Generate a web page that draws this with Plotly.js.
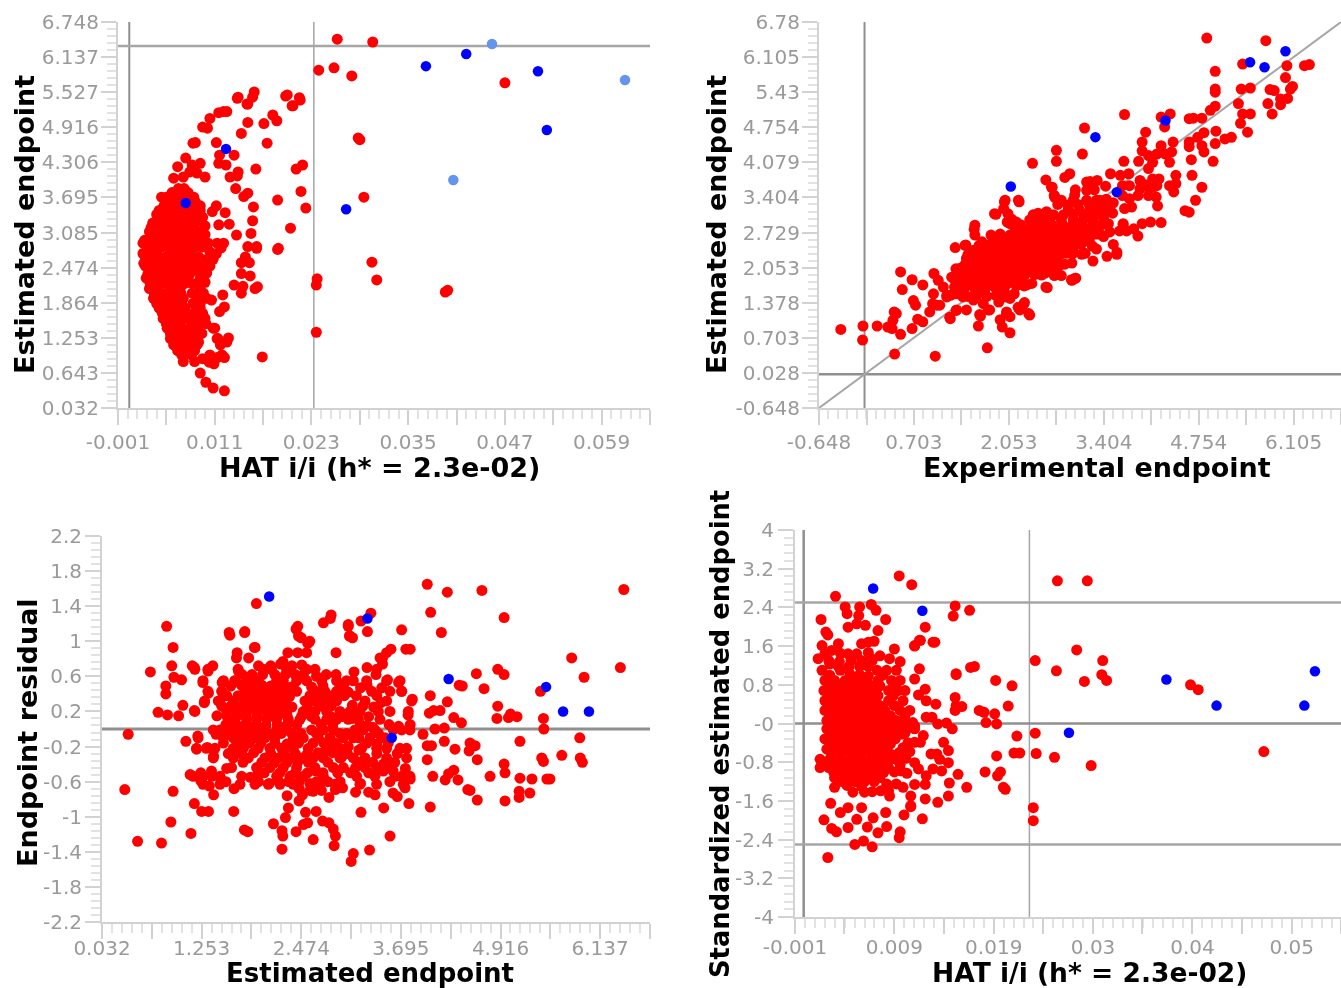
<!DOCTYPE html>
<html><head><meta charset="utf-8">
<script src="https://cdn.plot.ly/plotly-3.0.1.min.js"></script>
<style>html,body{margin:0;padding:0;background:#fff}#g{width:1341px;height:988px;filter:blur(.45px)}</style>
</head><body><div id="g"></div>
<script>
// ---------- panel 1: HAT vs estimated ----------
const hatEstRedA=[[.0262,6.45],[.0306,6.4],[.0239,5.91],[.0258,5.95],[.028,5.81],[.047,5.69],[.0288,4.73],[.029,4.7],[.0295,3.7],[.0305,2.57],[.0311,2.26],[.0399,2.08],[.0396,2.05],[.0237,2.28],[.0236,2.17],[.0236,1.35],[.0169,.92],
[.0121,5.19],[.0115,5.17],[.0125,5.19],[.0104,5.07],[.0101,4.9],[.0095,4.92],[.0086,4.65],[.0083,4.64],[.0074,4.38],[.0064,4.23],[.0092,4.29],[.0079,4.14],[.0059,4.03],[.0098,4.05],[.0071,4.05],[.0088,4.12],[.0082,4.26],
[.0151,5.32],[.0138,5.42],[.0112,4.65],[.0143,4.81],[.0151,5],[.0171,4.98],[.0182,5.13],[.0187,5.03],[.0206,5.29],[.0216,5.39],[.0175,4.64],[.0134,4.43],[.0116,4.43],[.0115,4.29],[.0124,4.26],[.0139,4.14],[.0129,4.05],[.0138,4.07],[.0161,4.19],[.0211,4.19],[.0219,4.26],[.0136,3.85],[.0151,3.77],[.0146,3.71],[.0158,3.53],[.0157,3.29],[.0112,3.55],[.0107,3.45],[.0123,3.43],[.0115,3.22],[.0128,3.23],[.0137,3.04],[.0155,3.07],[.0102,2.9],[.0188,3.65],[.0217,3.8],[.0223,3.51],[.0204,3.16],[.0189,2.81],[.0162,2.84],
[.0139,5.44],[.0159,5.53],[.0157,5.44],[.015,5.32],[.0198,5.46],[.02,5.48],[.0215,5.43],[.0207,5.29],
[.0065,3.85],[.0072,3.85],[.0044,3.7],[.005,3.7],[.0055,3.7],[.0062,3.7],[.007,3.7],[.0078,3.7],[.0084,3.7],
[.0047,3.55],[.0053,3.55],[.0059,3.55],[.0065,3.55],[.0072,3.55],[.008,3.55],[.0088,3.55],[.0092,3.55],
[.0038,3.4],[.0043,3.4],[.0049,3.4],[.0055,3.4],[.0061,3.4],[.0068,3.4],[.0076,3.4],[.0083,3.4],[.0088,3.4],
[.0033,3.25],[.0039,3.25],[.0045,3.25],[.005,3.25],[.0057,3.25],[.0063,3.25],[.0069,3.25],[.0075,3.25],[.0081,3.25],[.0086,3.25],
[.0029,3.1],[.0034,3.1],[.0043,3.1],[.005,3.1],[.0055,3.1],[.0061,3.1],[.0067,3.1],[.0073,3.1],[.0079,3.1],[.0085,3.1],
[.0023,2.95],[.0028,2.95],[.0034,2.95],[.004,2.95],[.0047,2.95],[.0053,2.95],[.0059,2.95],[.0065,2.95],[.0071,2.95],[.0077,2.95],[.0083,2.95],
[.0021,2.9],[.0034,2.9],[.0046,2.9],[.0059,2.9],[.0071,2.9],[.0084,2.9],[.0096,2.9],[.0113,2.9],[.0121,2.9],
[.0026,2.75],[.0038,2.75],[.0055,2.75],[.0067,2.75],[.0079,2.75],[.0104,2.75],
[.0021,2.72],[.0026,2.61],[.0042,2.61],[.0055,2.61],[.0067,2.61],[.0082,2.61],[.0096,2.61],
[.0022,2.55],[.003,2.43],[.0046,2.43],[.0059,2.43],[.0088,2.43],[.0098,2.43],
[.0025,2.29],[.0034,2.29],[.005,2.29],[.0063,2.29],[.0075,2.29],[.0092,2.29],
[.0029,2.11],[.0038,2.11],[.0055,2.11],[.0067,2.11],[.0092,2.11],
[.0034,1.94],[.0046,1.94],[.0059,1.94],[.0071,1.94],[.009,1.94],[.01,1.94],
[.0041,1.77],[.005,1.77],[.0063,1.77],[.0073,1.77],[.0092,1.77],
[.0046,1.59],[.0055,1.59],[.0065,1.59],[.0075,1.59],[.0088,1.59],[.0098,1.59],
[.0051,1.42],[.0059,1.42],[.0069,1.42],[.0079,1.42],[.0088,1.42],[.0108,1.42],
[.0055,1.24],[.0063,1.24],[.0073,1.24],[.0084,1.24],[.0113,1.24],
[.0059,1.13],[.0065,1.13],[.0077,1.13],[.0088,1.13],[.0117,1.13],[.0125,1.18],
[.0069,.955],[.0081,.955],[.0104,.955],[.0119,.955],
[.0162,2.81],[.0151,2.84],[.0188,2.79],[.0143,2.56],[.0153,2.56],[.0148,2.66],[.0143,2.37],[.0154,2.33],[.0134,2.17],[.0145,2.15],[.0143,2.03],[.016,2.11],[.0163,2.14],[.012,2],[.0106,1.91],[.0122,1.79],[.0116,1.71],[.011,1.42],[.0114,1.24],[.0127,1.25],[.0071,.84],[.0085,.84],[.0095,.89],[.0103,.83],[.0109,.8],[.0113,.91],[.0122,.91],[.0092,.64],[.0099,.48],[.0108,.38],[.0122,.33]];
const hatEstRedB=[[.0027,2.83],[.0036,2.83],[.0044,2.83],[.0052,2.83],[.0061,2.83],[.0069,2.83],[.0077,2.83],[.0086,2.83],[.0094,2.83],
[.0024,2.66],[.0032,2.66],[.004,2.66],[.0049,2.66],[.0058,2.66],[.0066,2.66],[.0074,2.66],[.0082,2.66],[.009,2.66],
[.0024,2.5],[.0033,2.5],[.0041,2.5],[.005,2.5],[.0058,2.5],[.0067,2.5],[.0075,2.5],[.0083,2.5],[.0092,2.5],
[.0027,2.36],[.0035,2.36],[.0043,2.36],[.0053,2.36],[.0062,2.36],[.007,2.36],[.0079,2.36],[.0093,2.36],
[.003,2.2],[.0039,2.2],[.0047,2.2],[.0056,2.2],[.0065,2.2],[.0073,2.2],[.0082,2.2],[.0089,2.2],
[.0035,2.03],[.0043,2.03],[.0052,2.03],[.0061,2.03],[.0068,2.03],[.0082,2.03],[.0088,2.03],[.0096,2.03],
[.0038,1.85],[.0047,1.85],[.0055,1.85],[.0064,1.85],[.0069,1.85],[.0083,1.85],[.0092,1.85],
[.0045,1.68],[.0052,1.68],[.006,1.68],[.0068,1.68],[.0072,1.68],[.0084,1.68],[.0095,1.68],
[.005,1.5],[.0058,1.5],[.0067,1.5],[.0083,1.5],[.0092,1.5],[.0099,1.5],
[.0055,1.33],[.0062,1.33],[.0072,1.33],[.008,1.33],[.0085,1.33],[.0094,1.33],
[.006,1.18],[.007,1.18],[.0082,1.18],[.009,1.18],[.0064,1.03],[.0075,1.03],[.0085,1.03],
[.0052,3.62],[.0068,3.62],[.0076,3.62],[.0086,3.62],[.0057,3.78],[.0066,3.78],[.0077,3.78],[.0041,3.47],[.0052,3.47],[.0078,3.47],[.0092,3.47],[.0031,3.17],[.0064,3.17],[.0082,3.17],
[.0108,2.62],[.0104,2.5],[.01,2.38],[.0112,2.72],[.0118,2.82],[.0098,2.22],[.0095,3.35],[.0098,3.2],[.0092,3.1],[.0098,3.05],[.009,2.95]];
const hatEstBlue=[[.0372,5.98],[.0422,6.19],[.0511,5.89],[.0522,4.87],[.0273,3.49],[.0124,4.54],[.0074,3.6]];
const hatEstPale=[[.0454,6.365],[.0406,4],[.0619,5.74]];
const hatEstXTicks=[-.001,.005,.011,.017,.023,.029,.035,.041,.047,.053,.059,.065];
const hatEstXText=['-0.001','','0.011','','0.023','','0.035','','0.047','','0.059',''];
const estTicks=[.032,.643,1.253,1.864,2.474,3.085,3.695,4.306,4.916,5.527,6.137,6.748];
const estText=['0.032','0.643','1.253','1.864','2.474','3.085','3.695','4.306','4.916','5.527','6.137','6.748'];
const estTextAlt=['0.032','','1.253','','2.474','','3.695','','4.916','','6.137',''];

// ---------- panel 2: experimental vs estimated ----------
const expEstRedA=[[-.338,.865],[-.022,.93],[-.028,.66],[.179,.93],[.331,.91],[.392,.88],[.422,1.2],[.452,1.17],[.404,1.04],[.513,.77],[.677,.88],[.756,1.06],[.829,1.01],[.428,.39],[1.006,.35],[1.747,.51],[1.62,.93],[1.96,.91],[2.069,.8],[.513,1.97],[.677,1.82],[.829,1.72],[.537,1.63],[.695,1.42],[.726,1.33],[.981,1.55],[.987,1.94],[1.048,1.81],[1.121,1.68],[1.17,1.52],[.969,1.36],[1.03,1.33],[.927,1.2],[1.212,1.1],[1.303,1.23],[1.638,1.15],[2.337,1.17],[2.276,1.38],[2.185,1.29],[2.021,1.2],[2.58,1.68],[2.945,1.82],[3.005,1.85],
[1.76,1.24],[2.07,1.11],[1.93,1.05],[1.22,1.07],[1.65,1.12],[2.02,1.17],[2.35,1.14],
[1.31,1.24],[1.45,1.24],[1.78,1.24],[2.21,1.24],[2.26,1.34],[1.07,1.33],[1.17,1.49],[1.28,1.55],[1.4,1.49],[1.55,1.43],[1.69,1.36],[1.91,1.39],[2.07,1.46],
[1.28,1.68],[1.43,1.68],[1.57,1.65],[1.71,1.62],[1.85,1.68],[1.99,1.59],[2.31,1.72],[2.6,1.67],[2.95,1.81],[3,1.85],
[1.26,1.85],[1.38,1.81],[1.52,1.81],[1.66,1.81],[1.81,1.81],[1.95,1.81],[2.09,1.81],[2.23,1.81],[2.52,1.91],[2.73,1.98],
[1.36,2.04],[1.5,2.01],[1.64,2.01],[1.78,2.01],[1.93,2.01],[2.07,2.01],[2.21,2.01],[2.35,2.01],[2.5,2.01],[2.66,2.04],[2.78,2.1],
[1.45,2.23],[1.59,2.2],[1.74,2.2],[1.88,2.2],[2.02,2.2],[2.16,2.2],[2.31,2.2],[2.45,2.2],[2.59,2.2],[2.73,2.2],[2.87,2.33],[3.09,2.31],
[1.29,2.44],[1.44,2.49],[1.55,2.39],[1.69,2.39],[1.83,2.39],[1.97,2.39],[2.12,2.39],[2.26,2.39],[2.4,2.39],[2.54,2.39],[2.69,2.39],[2.83,2.39],[2.97,2.42],
[1.57,2.68],[1.67,2.55],[1.86,2.55],[2,2.62],[2.16,2.58],[2.31,2.58],[2.45,2.58],[2.59,2.58],[2.73,2.58],[2.87,2.58],[3.04,2.58],[3.18,2.62],
[1.57,2.87],[2.14,2.74],[2.31,2.78],[2.45,2.78],[2.59,2.78],[2.73,2.78],[2.87,2.78],[3.02,2.78],[3.16,2.78],[3.3,2.81],
[2.07,2.9],[2.16,2.93],[2.35,2.97],[2.5,2.97],[2.64,2.97],[2.8,2.97],[2.97,2.97],[3.11,2.97],[3.25,2.97],[3.4,3],
[1.87,3.08],[2.04,3.09],[2.47,3.1],[2.59,3.13],[2.9,3.19],[3.06,3.16],[3.21,3.16],[3.35,3.16],[3.49,3.19],
[1.99,3.32],[2.2,3.32],[2.71,3.4],[2.8,3.35],[2.97,3.35],[3.16,3.35],[3.3,3.35],[3.44,3.37],
[2,3.35],[2.66,3.6],[2.7,3.44],[2.99,3.45],[3.16,3.54],[3.27,3.55],[3,3.55],[3.21,3.71],[3.43,3.62],[3.35,3.35],
[3.5,3.86],[3.76,3.86],[3.64,3.83],[3.67,3.63],[3.77,3.63],[3.67,3.44],[3.77,3.38],[3.7,3.19],[3.8,3.22],
[3.63,2.76],[3.68,2.88],[3.49,2.74],[3.54,2.5],[3.59,2.35],[3.45,2.27],[3.25,2.18],[3.3,2.41],[3.59,2.31],[3.3,2.7],[3.2,2.55],[3.4,2.65],
[3.83,2.8],[3.95,2.9],[4.07,2.93],[4.22,2.92],[3.89,2.66],[3.73,2.76],[3.68,2.9],
[3.92,3.73],[4.1,3.76],[4.19,3.76],[3.92,3.57],[4.04,3.6],[4.16,3.63],[3.89,3.44],[4.04,3.44],[4.15,3.41],[4.17,3.24],[4,3.65],[4.1,3.6],
[4.43,3.83],[4.43,3.67],[4.34,3.63],[4.4,3.51],[4.22,4.4],[4.16,4.24],[4.28,4.24],[4.04,4.21],[3.9,4.1],[4.1,4.08],[4.37,4.28],[4.34,4.08],[4.04,3.96],
[3.7,5],[4.22,4.95],[4.35,5.01],[4.27,4.76],[3.13,4.74],[2.73,4.31],[2.73,4.1],[3.1,4.24],[2.39,4.06],[2.58,3.74],[3.69,4.1],[4,4.66],[3.95,4.47],[3.95,4.3],[4.39,4.47],
[2.92,3.86],[2.85,3.79],[3.16,3.7],[3.31,3.73],[3.19,3.57],[2.67,3.6],[2.7,3.44],[2.19,3.35],[1.98,3.19],[1.85,3.09],[2.09,2.99],[2.03,2.93],[1.56,2.79],[1.43,2.48],[1.24,1.87],[1.3,2.03],
[4.87,6.47],[5.71,6.42],[5.38,5.97],[6.01,5.94],[6.26,5.94],[6.33,5.96],[4.99,5.83],[5.99,5.71],[6.09,5.54],[4.99,5.49],[4.99,5.43],[5.36,5.49],[5.49,5.51],[5.77,5.48],[5.83,5.46],[6.06,5.49],[6.02,5.31],[5.92,5.3],[5.74,5.21],[5.92,5.19],[5.8,5.01],[5.32,5.21],[5.38,5.01],[5.49,5.01],[4.99,5.16],[4.92,5.08],[4.8,4.93],[4.68,4.93],[4.62,4.92],[5.35,4.83],[5.45,4.66],[5,4.68],[4.83,4.65],[4.74,4.56],[4.62,4.47],[4.62,4.38],[4.99,4.44],[4.8,4.4],[4.83,4.28],[4.65,4.13],[4.96,4.1],[5.22,4.56],[5.13,4.53],[4.66,3.83],[4.8,3.6],[4.71,3.35],[4.56,3.15],[4.62,3.12]];
const expEstRedB=[[1.22,1.52],[1.33,1.55],[1.47,1.5],[1.6,1.52],[1.74,1.5],[1.87,1.52],[2,1.49],[2.13,1.55],
[1.32,1.72],[1.46,1.71],[1.6,1.74],[1.75,1.72],[1.9,1.71],[2.02,1.73],[2.16,1.7],[2.27,1.7],[2.38,1.75],
[1.33,1.91],[1.46,1.9],[1.59,1.93],[1.72,1.9],[1.88,1.9],[2,1.93],[2.14,1.9],[2.28,1.91],[2.42,1.92],[2.57,1.95],[2.7,1.9],[2.8,1.9],
[1.43,2.11],[1.56,2.1],[1.7,2.12],[1.84,2.1],[1.97,2.11],[2.12,2.1],[2.26,2.12],[2.4,2.1],[2.54,2.11],[2.68,2.12],[2.85,2.12],[2.95,2.14],
[1.47,2.3],[1.62,2.31],[1.77,2.3],[1.92,2.29],[2.07,2.31],[2.21,2.3],[2.36,2.31],[2.5,2.3],[2.64,2.32],[2.78,2.3],[2.96,2.32],[3.14,2.33],
[1.63,2.48],[1.78,2.5],[1.92,2.49],[2.06,2.5],[2.2,2.48],[2.36,2.49],[2.5,2.5],[2.64,2.48],[2.78,2.49],[2.93,2.5],[3.08,2.5],[3.24,2.47],
[1.8,2.68],[1.93,2.7],[2.07,2.68],[2.22,2.68],[2.38,2.69],[2.52,2.68],[2.66,2.7],[2.8,2.68],[2.95,2.69],[3.09,2.7],[3.23,2.68],[3.35,2.7],
[2.22,2.88],[2.38,2.87],[2.52,2.89],[2.67,2.87],[2.82,2.88],[2.96,2.86],[3.1,2.88],[3.25,2.87],[3.38,2.88],[3.47,2.9],
[2.4,3.07],[2.53,3.06],[2.69,3.07],[2.83,3.07],[2.97,3.08],[3.12,3.06],[3.27,3.07],[3.41,3.08],[3.53,3.1],
[2.75,3.27],[2.9,3.26],[3.04,3.27],[3.2,3.26],[3.32,3.28],[3.45,3.27],[3.54,3.3]];
const expEstBlue=[[2.081,3.615],[3.285,4.564],[3.589,3.506],[4.282,4.884],[5.486,6.006],[5.692,5.91],[5.99,6.217]];
const expTicks=[-.648,.028,.703,1.378,2.053,2.729,3.404,4.079,4.754,5.43,6.105,6.78];
const expText=['-0.648','0.028','0.703','1.378','2.053','2.729','3.404','4.079','4.754','5.43','6.105','6.78'];
const expTextAlt=['-0.648','','0.703','','2.053','','3.404','','4.754','','6.105',''];

// ---------- panel 3: estimated vs residual ----------
const resRedA=[[.353,-.06],[.311,-.69],[.468,-1.28],[.761,-1.3],[1.122,-1.19],[.876,-1.06],[.903,-.71],[.625,.65],[.824,1.17],[.903,.93],[.887,.72],[.814,.49],[.814,.4],[.719,.19],[.835,.16],[.971,.15],[1.023,.27],[.913,.59],[1.007,.56],[1.164,.21],[1.138,.72],[1.164,.7],[1.332,.66],[1.39,.72],[1.269,.53],[1.337,.41],[1.285,.3],[1.479,.32],[1.505,.53],[1.662,.55],[1.704,.66],[1.599,1.07],[1.782,1.11],[1.688,.87],[1.829,.81],[1.908,.93],[1.924,1.43],
[1.06,-.14],[1.206,-.08],[1.191,-.23],[1.322,-.21],[1.4,-.31],[1.112,-.52],[1.243,-.5],[1.374,-.48],[1.479,-.56],[1.243,-.59],[1.348,-.65],[1.4,-.75],[1.164,-.85],[1.253,-.94],[1.337,-.94],[1.646,-.94],[1.777,-1.15],[1.819,-1.17],[2.133,-1.08],[2.238,-1.37],[2.248,-1.22],[2.238,-1.16],[2.28,-1.01],[2.316,-.9],[2.301,-.76],[2.41,-1.17],[2.62,-1.26],[2.877,-1.33],[2.892,-1.22],[2.866,-1.14],[2.814,-1.07],[2.735,-1.05],[2.657,-.94],[2.526,-.95],[2.552,-1.07],[2.5,-1.09],[2.447,-.82],[2.489,-.75],[2.62,-.71],[2.814,-.78],[2.892,-.69],[2.735,-.57],
[2.746,1.21],[2.84,1.3],[2.83,1.26],[2.41,1.14],[2.431,1.17],[2.473,1.04],[2.552,.98],[2.578,1],[3.05,1.19],[3.065,1.06],[3.102,1.04],[3.206,1.23],[3.327,1.32],[3.285,1.11],[3.704,1.13],[4.06,1.33],[4.018,1.65],[4.264,1.56],[4.191,1.1],[4.688,1.58],[4.96,1.27],[6.427,1.59],[5.788,.81],[6.385,.7],[5.94,.59],[4.882,.68],[4.96,.62],[4.62,.63],[4.714,.46],[4.447,.49],[4.41,.5],[4.055,.38],[4.264,.31],[4.882,.26],[4.872,.12],[5.013,.13],[5.118,.14],[5.039,.17],[5.406,.43],[5.442,.12],[5.447,0],[5.887,-.1],[5.667,-.3],[5.893,-.33],[5.919,-.38],[5.421,-.33],[5.442,-.37],[5.154,-.14],[4.96,-.4],[4.971,-.5],[4.788,-.54],[5.154,-.56],[5.301,-.57],[5.484,-.57],[5.521,-.57],[5.275,-.73],[5.144,-.71],[5.144,-.78],[4.971,-.82],[4.631,-.81],[4.515,-.69],[4.542,-.7],[4.395,-.58],[4.238,-.58],[4.28,-.51],[4.343,-.47],[4.086,-.54],[4.055,-.89],[3.793,-.85],[3.484,-.9],[3.206,-.95],[3.562,-1.22],[3.311,-1.38],[3.112,-1.42],[3.086,-1.51],[3.379,-.75],[3.599,-.73],[3.651,-.77],[3.746,-.67],[3.809,-.57],[4.631,-.35],[4.542,-.16],[4.605,-.19],[4.531,-.25],[4.358,-.23],[4.227,-.14],[4.07,-.19],[3.966,-.06],[4.018,-.19],[4.018,-.35],[4.112,0],[4.227,.01],[4.437,.07],[4.343,.13],[4.175,.21],[4.096,.21],[4.044,.18],[3.835,.34],[3.783,.16],[3.809,.05],[3.667,.03],[3.704,.43],[3.667,.53],[3.809,.91],[3.756,.91],[3.573,.91],[3.531,.56],[3.52,.87],[3.44,.81],[3.47,.74],[3.39,.62],
[3.05,1.17],[1.59,1.1],[1.78,1.1],[2.44,1.06],[3.07,1.06],[2.56,.98],[1.9,.93],[2.31,.87],[2.43,.87],[2.54,.87],[2.9,.87],[1.68,.81],[3.47,.81],[2.25,.77],
[1.17,.68],[1.33,.68],[1.7,.68],[2.01,.68],[2.11,.68],[2.295,.68],[2.54,.68],[2.642,.68],[3.398,.68],
[1.27,.55],[1.52,.55],[1.66,.55],[1.825,.55],[1.947,.55],[2.172,.55],[2.254,.55],[2.417,.55],[2.54,.55],[2.724,.55],[2.907,.55],[3.03,.55],[3.112,.55],[3.275,.55],[3.52,.55],[3.684,.55],
[1.33,.43],[1.498,.43],[1.784,.43],[1.907,.43],[2.029,.43],[2.152,.43],[2.274,.43],[2.417,.43],[2.642,.43],[2.764,.43],[2.907,.43],[3.03,.43],[3.336,.43],[3.561,.43],[3.704,.43],
[1.29,.32],[1.457,.32],[1.641,.32],[1.784,.32],[1.907,.32],[2.029,.32],[2.152,.32],[2.274,.32],[2.519,.32],[2.642,.32],[2.785,.32],[2.907,.32],[3.255,.32],[3.52,.32],[3.827,.32],
[1.17,.2],[1.559,.2],[1.682,.2],[1.804,.2],[1.927,.2],[2.05,.2],[2.172,.2],[2.295,.2],[2.499,.2],[2.642,.2],[2.785,.2],[2.948,.2],[3.071,.2],[3.193,.2],[3.418,.2],[3.561,.2],[3.786,.2],
[1.6,.11],[1.804,.11],[1.927,.11],[2.05,.11],[2.172,.11],[2.315,.11],[2.458,.11],[2.642,.11],[2.785,.11],[2.907,.11],[3.05,.11],[3.173,.11],[3.438,.11],
[1.396,-.01],[1.478,-.01],[1.62,-.01],[1.764,-.01],[1.886,-.01],[2.029,-.01],[2.172,-.01],[2.295,-.01],[2.601,-.01],[2.744,-.01],[2.867,-.01],[3.132,-.01],[3.234,-.01],[3.377,-.01],[3.602,-.01],[3.704,-.01],[3.806,-.01],
[1.21,-.1],[1.519,-.1],[1.641,-.1],[1.784,-.1],[1.907,-.1],[2.029,-.1],[2.152,-.1],[2.376,-.1],[2.499,-.1],[2.683,-.1],[2.826,-.1],[2.989,-.1],[3.112,-.1],[3.316,-.1],[3.459,-.1],
[1.19,-.22],[1.31,-.22],[1.416,-.22],[1.641,-.22],[1.764,-.22],[1.947,-.22],[2.09,-.22],[2.233,-.22],[2.376,-.22],[2.56,-.22],[2.805,-.22],[2.948,-.22],[3.214,-.22],[3.398,-.22],[3.684,-.22],[3.765,-.22],
[1.396,-.33],[1.641,-.33],[1.825,-.33],[2.029,-.33],[2.192,-.33],[2.335,-.33],[2.478,-.33],[2.621,-.33],[2.744,-.33],[2.948,-.33],[3.112,-.33],[3.255,-.33],[3.52,-.33],[3.765,-.33],
[1.62,-.44],[1.927,-.44],[2.09,-.44],[2.254,-.44],[2.417,-.44],[2.642,-.44],[2.867,-.44],[2.989,-.44],[3.255,-.44],[3.398,-.44],[3.561,-.44],
[1.15,-.54],[1.27,-.54],[1.375,-.54],[1.478,-.54],[1.743,-.54],[1.927,-.54],[2.172,-.54],[2.335,-.54],[2.499,-.54],[2.744,-.54],[3.153,-.54],[3.377,-.54],[3.622,-.54],[3.704,-.54],[3.806,-.54],
[1.27,-.63],[1.478,-.63],[1.723,-.63],[1.907,-.63],[2.07,-.63],[2.213,-.63],[2.376,-.63],[2.703,-.63],[2.887,-.63],[3.193,-.63],[3.398,-.63],[3.724,-.63]];
const resRedB=[[1.61,.49],[1.74,.5],[1.86,.49],[1.99,.5],[2.1,.49],[2.22,.5],[2.35,.48],[2.74,.49],[2.96,.48],
[1.56,.38],[1.7,.38],[1.84,.37],[1.96,.38],[2.08,.37],[2.2,.38],[2.33,.37],[2.58,.38],[2.72,.37],[2.85,.38],[3.1,.27],
[1.5,.26],[1.61,.26],[1.73,.26],[1.85,.26],[1.97,.25],[2.1,.26],[2.22,.26],[2.36,.25],[2.55,.25],[2.7,.26],[2.84,.26],[3.23,.26],
[1.44,.15],[1.56,.15],[1.68,.14],[1.8,.15],[1.93,.15],[2.06,.14],[2.18,.15],[2.3,.15],[2.48,.15],[2.6,.14],[2.84,.14],[2.97,.14],[3.3,.14],
[1.55,.05],[1.68,.05],[1.8,.06],[1.92,.05],[2.04,.04],[2.18,.05],[2.3,.05],[2.42,.05],[2.72,.05],[2.86,.05],[3.28,.04],[3.55,.05],
[1.43,-.06],[1.57,-.05],[1.7,-.05],[1.83,-.05],[1.96,-.05],[2.1,-.06],[2.23,-.05],[2.36,-.05],[2.47,-.05],[2.66,-.05],[2.95,-.05],[3.42,-.05],
[1.52,-.16],[1.7,-.16],[1.84,-.16],[1.98,-.16],[2.15,-.16],[2.3,-.17],[2.44,-.16],[2.62,-.16],[2.75,-.16],[2.89,-.16],[3.28,-.16],[3.54,-.16],
[1.58,-.28],[1.74,-.28],[1.89,-.27],[2.1,-.28],[2.26,-.27],[2.4,-.28],[2.55,-.28],[2.68,-.27],[2.86,-.27],[3.04,-.28],[3.4,-.28],[3.65,-.28],
[1.76,-.38],[1.99,-.38],[2.14,-.39],[2.3,-.38],[2.43,-.38],[2.56,-.38],[2.8,-.38],[3.18,-.38],[3.62,-.38],[2.02,-.5],[2.21,-.5],[2.4,-.5],[2.55,-.5],[2.65,-.48],[3.3,-.5],[3.48,-.48],
[1.75,.62],[1.87,.62],[2,.62],[2.15,.62],[2.28,.62],[2.4,.62],[2.5,.62],[1.95,.72],[2.1,.72],[2.22,.74],[2.36,.72],[2.48,.73],
[1.95,-.6],[2.08,-.62],[2.2,-.6],[2.32,-.6],[2.45,-.6],[2.58,-.62],[2.66,-.6],[2.8,-.6],[2.95,-.6],[2.58,-.7],[2.72,-.7],
[3,.38],[3.15,.38],[3.4,.38],[3.28,.5],[3.16,.16],[3.36,.25],[3.05,-.2],[3.18,-.24],[3.5,-.1],[2.74,-.5],[2.92,-.5],[3.08,-.5],[3.2,-.62],[3.56,-.6],[3.3,-.72],[3.03,-.05],[3.2,.05],[3.45,.3],
[2.66,.6],[2.78,.62],[2.9,.62],[3.12,.65],[3.28,.7],[3.05,.42],[3.2,.47],[3.46,.47],[2.6,.48],[3.1,.12],[3.35,.02],[3.18,-.1],[3.4,-.17],[3.52,-.22],[2.97,-.32],[3.14,-.44],[3.35,-.38],[3.48,-.4],[3.6,-.48],[3.75,-.45],[2.98,-.67],[3.14,-.72],[2.75,-.27],[2.45,-.68],[1.85,-.55],[1.65,-.68],[1.56,-.45],[1.55,-.6]];
const resBlue=[[2.081,1.51],[3.285,1.26],[4.28,.57],[3.583,-.1],[5.474,.48],[5.683,.2],[6,.2]];
const resTicks=[2.2,1.8,1.4,1,.6,.2,-.2,-.6,-1,-1.4,-1.8,-2.2];
const resText=['2.2','1.8','1.4','1','0.6','0.2','-0.2','-0.6','-1','-1.4','-1.8','-2.2'];

// ---------- panel 4: HAT vs standardized ----------
const stdRedA=[[.0098,3.05],[.0111,2.87],[.0262,2.95],[.0293,2.95],[.0032,2.63],[.0156,2.43],[.0154,2.22],[.0171,2.34],[.0239,1.3],[.0261,1.09],[.0282,1.52],[.0309,1.3],[.0308,1.01],[.0313,.89],[.029,.87],[.04,.8],[.0408,.7],[.0476,-.58],[.0297,-.87],[.0259,-.7],[.024,-.62],[.0239,-.2],[.022,-.26],[.0217,-.61],[.0223,-.61],[.0199,-.67],[.0237,-1.74],[.0237,-2.01],[.0206,-1.32],[.0208,-1.36],[.0187,-1],[.0203,-1],[.02,-1.08],[.0198,.89],[.0215,.78],[.0211,.36],[.0181,.27],[.0186,.23],[.0197,.2],[.0199,-.01],[.0188,.02],[.0172,1.16],[.0176,1.18],[.0157,1.01],[.0133,1.68],[.0119,1.72],[.0114,1.6],[.0125,1.99],[.0168,-1.32],[.0149,-1.5],[.0138,-1.63],[.0125,-1.56],[.0122,-1.97],[.0103,-1.89],[.011,-1.7],[.0024,-2.77],
[.0042,2.41],[.0044,2.27],[.0057,2.41],[.0056,2.23],[.0069,2.46],[.0074,2.34],[.0017,2.15],[.0084,2.15],[.0045,1.99],[.0063,2.03],[.0054,2.06],[.0076,1.92],[.0022,1.89],[.0024,1.83],[.0018,1.61],[.0028,1.51],[.0014,1.34],[.0021,1.44],[.0066,1.68],[.0072,1.7],[.0059,1.65],[.0045,1.44],[.0054,1.44],[.0066,1.47],[.0093,1.54],[.0088,1.34],[.0099,1.28],[.0026,1.23],[.0114,1.61],[.012,1.72],[.0135,1.68],
[.0119,1.13],[.0114,.92],[.0125,.71],[.0118,.59],[.0126,.47],[.0136,.4],[.0157,1.03],[.0156,.54],[.0157,.37],[.0163,.35],[.0156,.27],[.0126,.13],[.0132,.13],[.0138,-.01],[.0147,.01],[.0153,-.11],[.0114,-.05],[.0123,-.25],[.0114,-.39],[.012,-.39],[.0109,-.58],[.0144,-.39],[.0149,-.56],[.0131,-.63],[.0137,-.63],[.0114,-.81],[.0118,-.94],[.014,-.74],[.0126,-1.08],[.0133,-.94],[.0142,-.98],[.0149,-.81],[.0159,-1.05],[.015,-1.23],[.0106,-1.03],[.0114,-1.26],[.0125,-1.26],[.011,-1.5],[.011,-1.72],[.0084,-1.84],[.0071,-1.95],[.0087,-1.39],[.0088,-1.5],[.007,-1.41],[.0079,-1.39],[.0027,-1.65],[.0045,-1.74],[.0037,-1.84],[.0059,-1.74],[.0054,-1.98],[.0045,-2.15],[.002,-1.99],[.0028,-2.17],[.0033,-2.24],[.0065,-2.14],[.0085,-2.13],[.0076,-2.26],[.0099,-2.24],[.0098,-2.36],[.0052,-2.5],[.0061,-2.43],[.007,-2.55],
[.0018,1.1],[.0037,1.1],[.0075,1.1],[.0085,1.1],[.0095,1.1],
[.0021,.89],[.0031,.89],[.0042,.89],[.0052,.89],[.0063,.89],[.0076,.89],[.009,.89],[.0099,.89],
[.002,.68],[.003,.68],[.004,.68],[.005,.68],[.0061,.68],[.0071,.68],[.0087,.68],[.0097,.68],[.0104,.68],
[.0021,.47],[.0031,.47],[.0042,.47],[.0052,.47],[.0063,.47],[.0073,.47],[.0087,.47],[.0102,.47],
[.0021,.27],[.0031,.27],[.0042,.27],[.0052,.27],[.0063,.27],[.0073,.27],[.0083,.27],[.0099,.27],[.0109,.27],
[.0023,.06],[.0033,.06],[.0044,.06],[.0054,.06],[.0064,.06],[.0075,.06],[.0085,.06],[.0095,.06],
[.0023,-.11],[.0033,-.11],[.0044,-.11],[.0054,-.11],[.0064,-.11],[.0075,-.11],[.0085,-.11],[.0095,-.11],[.0106,-.11],[.0114,-.11],
[.0021,-.32],[.0031,-.32],[.0042,-.32],[.0052,-.32],[.0063,-.32],[.0073,-.32],[.0083,-.32],[.0094,-.32],
[.0023,-.53],[.0033,-.53],[.0044,-.53],[.0054,-.53],[.0064,-.53],[.0075,-.53],[.0085,-.53],
[.0016,-.74],[.0026,-.74],[.0037,-.74],[.0047,-.74],[.0057,-.74],[.0068,-.74],[.0078,-.74],[.0088,-.74],[.0095,-.74],
[.0016,-.91],[.0025,-.91],[.0035,-.91],[.0045,-.91],[.0056,-.91],[.0066,-.91],[.0076,-.91],[.0087,-.91],
[.0031,-1.12],[.0047,-1.12],[.0057,-1.12],[.0068,-1.12],[.0078,-1.12],[.0031,-1.32],[.0044,-1.28],[.0059,-1.3]];
const stdRedB=[[.0026,1],[.0047,1.02],[.0057,1.01],[.0066,.98],[.0081,1],[.0026,.78],[.0036,.79],[.0047,.78],[.0057,.78],[.0068,.79],[.0078,.78],[.0094,.78],
[.0025,.58],[.0035,.57],[.0045,.58],[.0056,.58],[.0066,.57],[.0076,.58],[.0092,.58],[.0026,.37],[.0036,.37],[.0047,.38],[.0057,.37],[.0068,.37],[.0078,.37],[.0093,.37],
[.0026,.17],[.0037,.17],[.0047,.16],[.0058,.17],[.0069,.17],[.0079,.17],[.0089,.16],[.0104,.16],
[.0028,-.02],[.0039,-.02],[.0049,-.03],[.0059,-.02],[.007,-.02],[.008,-.02],[.009,-.02],[.0101,-.02],
[.0028,-.21],[.0038,-.21],[.0049,-.21],[.0059,-.22],[.007,-.21],[.008,-.21],[.009,-.21],[.0101,-.22],
[.0026,-.42],[.0037,-.42],[.0047,-.43],[.0058,-.42],[.0068,-.42],[.0078,-.42],[.0089,-.42],
[.0028,-.63],[.0038,-.63],[.0049,-.64],[.0059,-.63],[.007,-.63],[.008,-.63],[.009,-.64],
[.0021,-.83],[.0031,-.83],[.0042,-.83],[.0052,-.83],[.0062,-.83],[.0073,-.83],[.0083,-.83],
[.003,-1.01],[.004,-1.01],[.0051,-1.02],[.0061,-1.01],[.0072,-1.01],[.0082,-1.01],[.0039,-1.2],[.0052,-1.2],[.0062,-1.2],[.0072,-1.2],
[.0025,1.3],[.0036,1.28],[.0048,1.3],[.0059,1.3],[.007,1.3],[.0035,1.18],[.0046,1.18],[.0057,1.18],[.0066,1.18],[.005,-1.42],[.0062,-1.42],
[.0104,-.2],[.0107,-.4],[.0102,-.5],[.0098,-.6],[.0105,-.72],[.0099,-.85],[.01,-.98],[.0104,.05],[.0112,.02],[.0093,-1],[.0095,-1.25],[.0102,-1.32],[.0085,-1.25],[.0078,1.4],[.0068,1.36],[.0037,1.45],[.0035,1.65]];
const stdBlue=[[.0071,2.79],[.0122,2.33],[.0375,.91],[.0427,.37],[.0518,.37],[.0529,1.08],[.0274,-.19]];
const stdTicks=[4,3.2,2.4,1.6,.8,0,-.8,-1.6,-2.4,-3.2,-4];
const stdText=['4','3.2','2.4','1.6','0.8','-0','-0.8','-1.6','-2.4','-3.2','-4'];
const hatStdXTicks=[-.001,.0041,.0093,.0144,.0196,.0247,.0299,.035,.0402,.0453,.0505,.0556];
const hatStdXText=['-0.001','','0.009','','0.019','','0.03','','0.04','','0.05',''];

// ---------- reference lines ----------
const hatStar=.0233, hatZero1=.0004, hatZero4=-.0001, estTop=6.33, stdLim=[2.5,0,-2.5];

const GREY='#a6a6a6', LINE='#8f8f8f', TICK='#d2d2d2', MINOR='#e2e2e2', TXT='#9a9a9a';
const W=1341,H=988;
function axis(pxA,pxB,range,vals,text,anchor,minorStep,isX,standoff){
  const len=isX?W:H;
  const dom=isX?[pxA/len,Math.min(1,pxB/len)]:[1-pxB/len,1-pxA/len];
  return {domain:dom,range:range,anchor:anchor,tickmode:'array',tickvals:vals,ticktext:text,ticks:'outside',ticklen:15,tickwidth:2,tickcolor:TICK,
    showline:true,linecolor:TICK,linewidth:2,showgrid:false,zeroline:false,ticklabelstandoff:standoff,
    tickfont:{family:'DejaVu Sans',size:20,color:TXT},
    minor:{ticks:'outside',ticklen:9,tickwidth:2,tickcolor:MINOR,dtick:minorStep,tick0:range[0],showgrid:false}};
}
const layout={width:W,height:H,margin:{l:0,r:0,t:0,b:0},paper_bgcolor:'#fff',plot_bgcolor:'#fff',showlegend:false,
 xaxis: axis(118,650,[-.001,.065],hatEstXTicks,hatEstXText,'y',.0012,true,0),
 yaxis: axis(22,408,[.032,6.748],estTicks,estText,'x',.1221,false,-2),
 xaxis2:axis(819,1341,[-.648,6.78],expTicks,expTextAlt,'y2',.13505,true,0),
 yaxis2:axis(22,408,[-.648,6.78],expTicks,expText,'x2',.13505,false,-2),
 xaxis3:axis(102,650,[.032,6.748],estTicks,estTextAlt,'y3',.1221,true,-8),
 yaxis3:axis(536,922,[-2.2,2.2],resTicks,resText,'x3',.08,false,-1),
 xaxis4:axis(795,1341,[-.001,.0556],hatStdXTicks,hatStdXText,'y4',.00103,true,-4),
 yaxis4:axis(530,917,[-4,4],stdTicks,stdText,'x4',.16,false,0),
 shapes:[],annotations:[]};
function ln(x0,y0,x1,y1,ax,w,c){layout.shapes.push({type:'line',xref:'x'+ax,yref:'y'+ax,x0,y0,x1,y1,line:{color:c||LINE,width:w||2},layer:'below'});}
ln(hatZero1,.032,hatZero1,6.748,'',2);ln(hatStar,.032,hatStar,6.748,'',1.5,GREY);ln(-.001,estTop,.065,estTop,'',2.5,GREY);
ln(0,-.648,0,6.78,'2',2);ln(-.648,0,6.78,0,'2',2.5);ln(-.648,-.648,6.78,6.78,'2',2,GREY);
ln(.032,0,6.748,0,'3',3);
ln(hatZero4,-4,hatZero4,4,'4',2.5);ln(hatStar,-4,hatStar,4,'4',1.5,GREY);
stdLim.forEach(v=>ln(-.001,v,.0556,v,'4',2.5,v===0?LINE:GREY));

// axis titles, centred where the reference centres them (not on the plot area)
function title(text,cx,cy,rot,size){layout.annotations.push({text:text,xref:'paper',yref:'paper',x:cx/W,y:1-cy/H,xanchor:'center',yanchor:'middle',textangle:rot,showarrow:false,
  font:{family:'DejaVu Sans',size:size||27,color:'#000',weight:'bold'}});}
title('HAT i/i (h* = 2.3e-02)',379,467,0);
title('Estimated endpoint',24,225,-90);
title('Experimental endpoint',1097,467,0);
title('Estimated endpoint',716,225,-90);
title('Estimated endpoint',370,973,0,26);
title('Endpoint residual',27,733,-90);
title('HAT i/i (h* = 2.3e-02)',1089,972,0,26.5);
title('Standardized estimated endpoint',720,734,-90,25.8);

function pts(arr,ax,color,size){return {type:'scatter',mode:'markers',xaxis:'x'+ax,yaxis:'y'+ax,x:arr.map(p=>p[0]),y:arr.map(p=>p[1]),
  marker:{color:color,size:size,line:{width:0}},hoverinfo:'x+y'};}
const RED='#ff0000',BLUE='#0000ff',PALE='#6495ed';
const data=[pts(hatEstRedA.concat(hatEstRedB),'',RED,11),pts(hatEstPale,'',PALE,10.5),pts(hatEstBlue,'',BLUE,10.5),
 pts(expEstRedA.concat(expEstRedB),'2',RED,11),pts(expEstBlue,'2',BLUE,10.5),
 pts(resRedA.concat(resRedB),'3',RED,11),pts(resBlue,'3',BLUE,10.5),
 pts(stdRedA.concat(stdRedB),'4',RED,11),pts(stdBlue,'4',BLUE,10.5)];
Plotly.newPlot('g',data,layout,{displayModeBar:false,responsive:false});
</script></body></html>
